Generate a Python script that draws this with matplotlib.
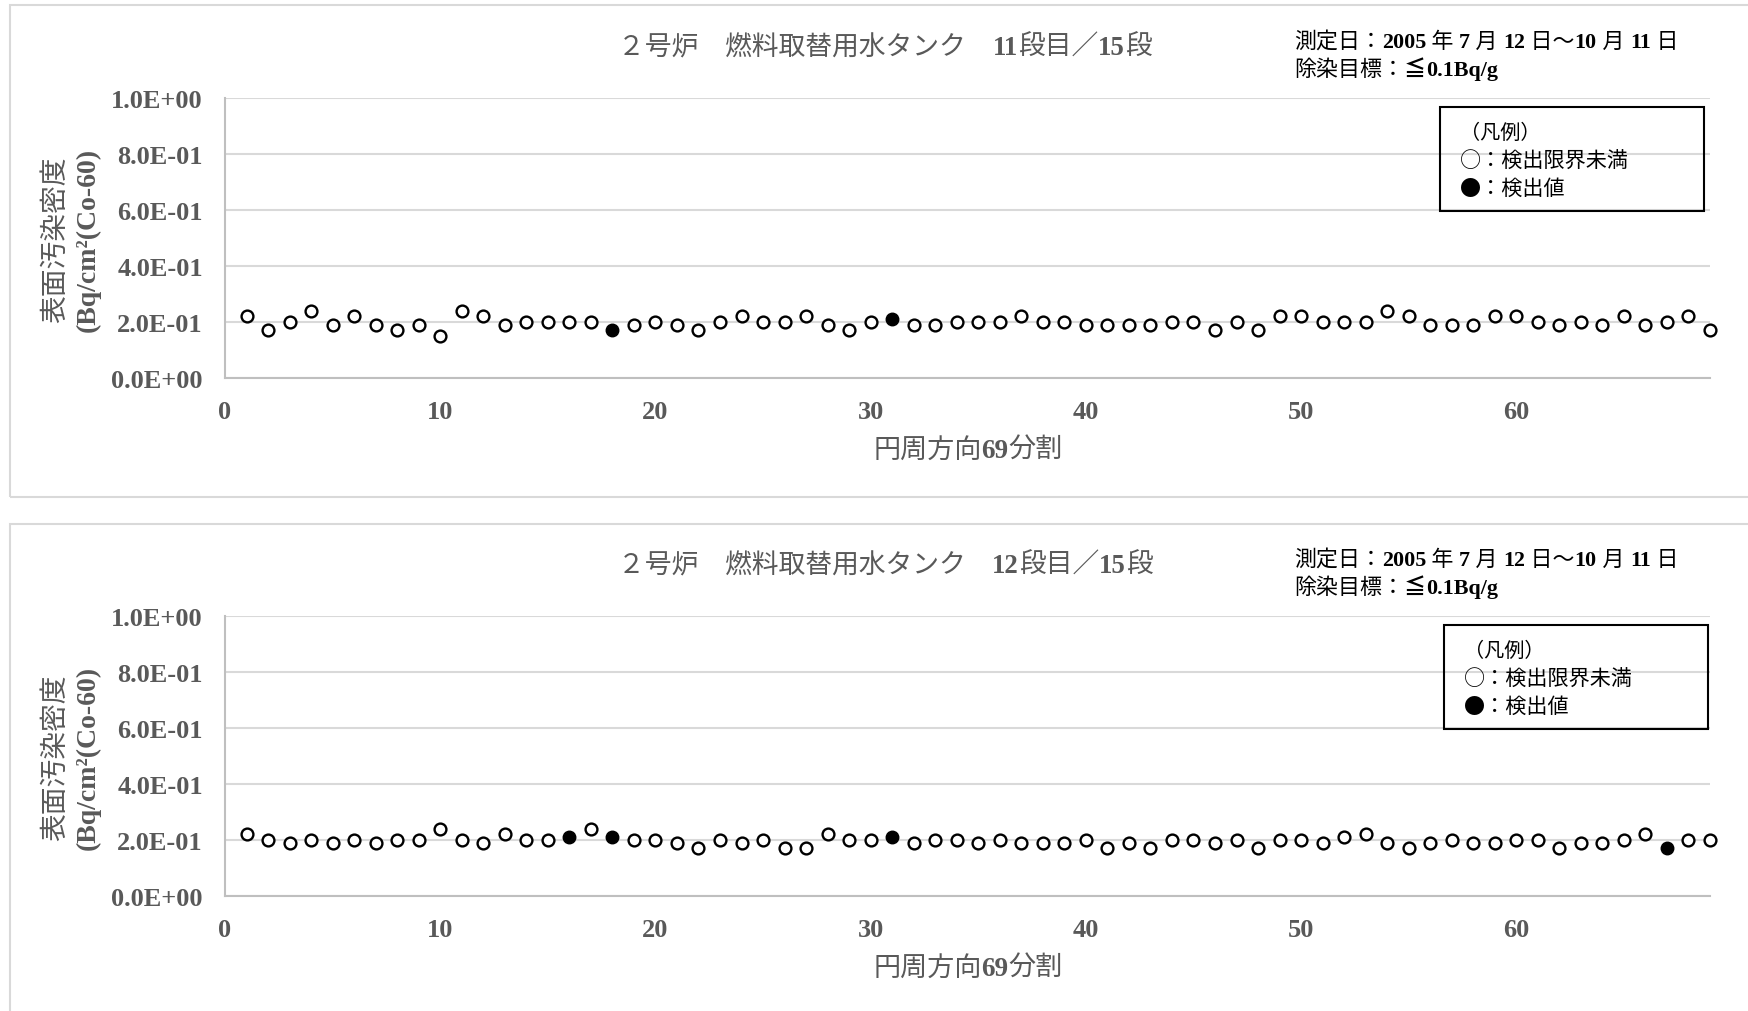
import matplotlib
matplotlib.use("Agg")
import matplotlib.pyplot as plt
from matplotlib.patches import Rectangle
from matplotlib.transforms import IdentityTransform
from matplotlib.ticker import FuncFormatter

# ---- data -------------------------------------------------------------
positions = list(range(1, 70))

values_stage11 = [0.22, 0.17, 0.20, 0.24, 0.19, 0.22, 0.19, 0.17, 0.19, 0.15,
                  0.24, 0.22, 0.19, 0.20, 0.20, 0.20, 0.20, 0.17, 0.19, 0.20,
                  0.19, 0.17, 0.20, 0.22, 0.20, 0.20, 0.22, 0.19, 0.17, 0.20,
                  0.21, 0.19, 0.19, 0.20, 0.20, 0.20, 0.22, 0.20, 0.20, 0.19,
                  0.19, 0.19, 0.19, 0.20, 0.20, 0.17, 0.20, 0.17, 0.22, 0.22,
                  0.20, 0.20, 0.20, 0.24, 0.22, 0.19, 0.19, 0.19, 0.22, 0.22,
                  0.20, 0.19, 0.20, 0.19, 0.22, 0.19, 0.20, 0.22, 0.17]
detected_stage11 = [18, 31]

values_stage12 = [0.22, 0.20, 0.19, 0.20, 0.19, 0.20, 0.19, 0.20, 0.20, 0.24,
                  0.20, 0.19, 0.22, 0.20, 0.20, 0.21, 0.24, 0.21, 0.20, 0.20,
                  0.19, 0.17, 0.20, 0.19, 0.20, 0.17, 0.17, 0.22, 0.20, 0.20,
                  0.21, 0.19, 0.20, 0.20, 0.19, 0.20, 0.19, 0.19, 0.19, 0.20,
                  0.17, 0.19, 0.17, 0.20, 0.20, 0.19, 0.20, 0.17, 0.20, 0.20,
                  0.19, 0.21, 0.22, 0.19, 0.17, 0.19, 0.20, 0.19, 0.19, 0.20,
                  0.20, 0.17, 0.19, 0.19, 0.20, 0.22, 0.17, 0.20, 0.20]
detected_stage12 = [16, 18, 31, 67]

stage_labels = ["11", "12"]
total_stages = "15"
x_ticks = [0, 10, 20, 30, 40, 50, 60]
y_ticks = [0.0, 0.2, 0.4, 0.6, 0.8, 1.0]

# ---- style ------------------------------------------------------------
W, H = 1749, 1012
FAMILY = ["Liberation Serif", "Noto Sans CJK JP"]
CJK = ["Noto Sans CJK JP", "DejaVu Sans"]
GREY = "#595959"
GRID = "#d9d9d9"

fig = plt.figure(figsize=(W / 100, H / 100), dpi=100)
fig.patch.set_facecolor("white")
renderer = fig.canvas.get_renderer()
ident = IdentityTransform()


def px(x, y):
    """Pixel position measured from the top-left corner -> display coords."""
    return x, H - y


def run_of_text(x, y, segments, size, color, ha="left", family=FAMILY):
    """Draw a line made of (text, bold) pieces on one shared baseline."""
    pieces, widths = [], []
    for s, bold in segments:
        t = fig.text(0, 0, s, fontsize=size, family=family, color=color,
                     fontweight="bold" if bold else "normal",
                     ha="left", va="baseline", transform=ident)
        widths.append(t.get_window_extent(renderer).width)
        pieces.append(t)
    total = sum(widths)
    start = x - total / 2 if ha == "center" else x
    for t, w in zip(pieces, widths):
        t.set_position(px(start, y))
        start += w


def panel(offset, values, detected, stage, legend_dx):
    # outer frame of the chart area
    if offset == 0:
        fig.patches.append(Rectangle(px(10, 498), 1760, 492, transform=ident,
                                     fill=False, edgecolor=GRID, linewidth=1.5))
    else:
        fig.patches.append(Rectangle(px(10, 1040), 1760, 1040 - 525,
                                     transform=ident, fill=False,
                                     edgecolor=GRID, linewidth=1.5))

    top, bottom = 99 + offset, 379 + offset
    left, right = 225, 1710
    ax = fig.add_axes([left / W, 1 - bottom / H, (right - left) / W,
                       (bottom - top) / H])
    ax.set_xlim(0, 69)
    ax.set_ylim(0, 1.0)
    ax.set_xticks(x_ticks)
    ax.set_yticks(y_ticks)
    ax.yaxis.set_major_formatter(FuncFormatter(lambda v, _: f"{v:.1E}"))
    ax.grid(axis="y", color=GRID, linewidth=1.5)
    ax.set_axisbelow(True)
    for side in ("top", "right"):
        ax.spines[side].set_visible(False)
    for side in ("left", "bottom"):
        ax.spines[side].set_color("#bfbfbf")
        ax.spines[side].set_linewidth(1.5)
    ax.tick_params(length=0, labelsize=19, labelcolor=GREY)
    ax.tick_params(axis="y", pad=16)
    ax.tick_params(axis="x", pad=16)
    for lab in ax.get_xticklabels() + ax.get_yticklabels():
        lab.set_family(FAMILY)
        lab.set_fontweight("bold")

    open_x = [p for p in positions if p not in detected]
    open_y = [v for p, v in zip(positions, values) if p not in detected]
    det_x = [p for p in positions if p in detected]
    det_y = [v for p, v in zip(positions, values) if p in detected]
    ax.plot(open_x, open_y, linestyle="none", marker="o", markersize=8.5,
            markerfacecolor="white", markeredgecolor="black",
            markeredgewidth=1.7, clip_on=False, zorder=3)
    ax.plot(det_x, det_y, linestyle="none", marker="o", markersize=9,
            markerfacecolor="black", markeredgecolor="black",
            markeredgewidth=1.0, clip_on=False, zorder=3)

    # title
    run_of_text(885, 55 + offset,
                [("２号炉　燃料取替用水タンク　", False), (stage, True),
                 ("段目／", False), (total_stages, True), ("段", False)],
                19.3, GREY, ha="center")
    # measurement period and target
    run_of_text(1294, 48 + offset,
                [("測定日：", False), ("2005", True), (" 年 ", False),
                 ("7", True), (" 月 ", False), ("12", True), (" 日～", False),
                 ("10", True), (" 月 ", False), ("11", True), (" 日", False)],
                15.8, "black")
    run_of_text(1294, 76 + offset,
                [("除染目標：", False), ("≦", True), ("0.1Bq/g", True)],
                15.8, "black")

    # axis titles
    fig.text(56, H - (240 + offset), "表面汚染密度", rotation=90,
             ha="center", va="center", fontsize=20, family=FAMILY,
             color=GREY, transform=ident)
    fig.text(88, H - (240 + offset), "(Bq/cm²(Co-60)", rotation=90,
             ha="center", va="center", fontsize=20, family=FAMILY,
             fontweight="bold", color=GREY, transform=ident)
    run_of_text(968, 458 + offset,
                [("円周方向", False), ("69", True), ("分割", False)],
                19.5, GREY, ha="center")

    # legend box
    lx = 1440 + legend_dx
    fig.patches.append(Rectangle(px(lx, 212 + offset), 264, 104,
                                 transform=ident, fill=False,
                                 edgecolor="black", linewidth=1.5))
    run_of_text(lx + 20, 139 + offset, [("（凡例）", False)], 14.5, "black",
                family=CJK)
    run_of_text(lx + 20, 168 + offset, [("○：検出限界未満", False)], 15.2,
                "black", family=CJK)
    run_of_text(lx + 20, 195 + offset, [("●：検出値", False)], 15.2, "black",
                family=CJK)


panel(0, values_stage11, detected_stage11, stage_labels[0], 0)
panel(518, values_stage12, detected_stage12, stage_labels[1], 4)

fig.savefig("out.png", dpi=100, facecolor="white")
